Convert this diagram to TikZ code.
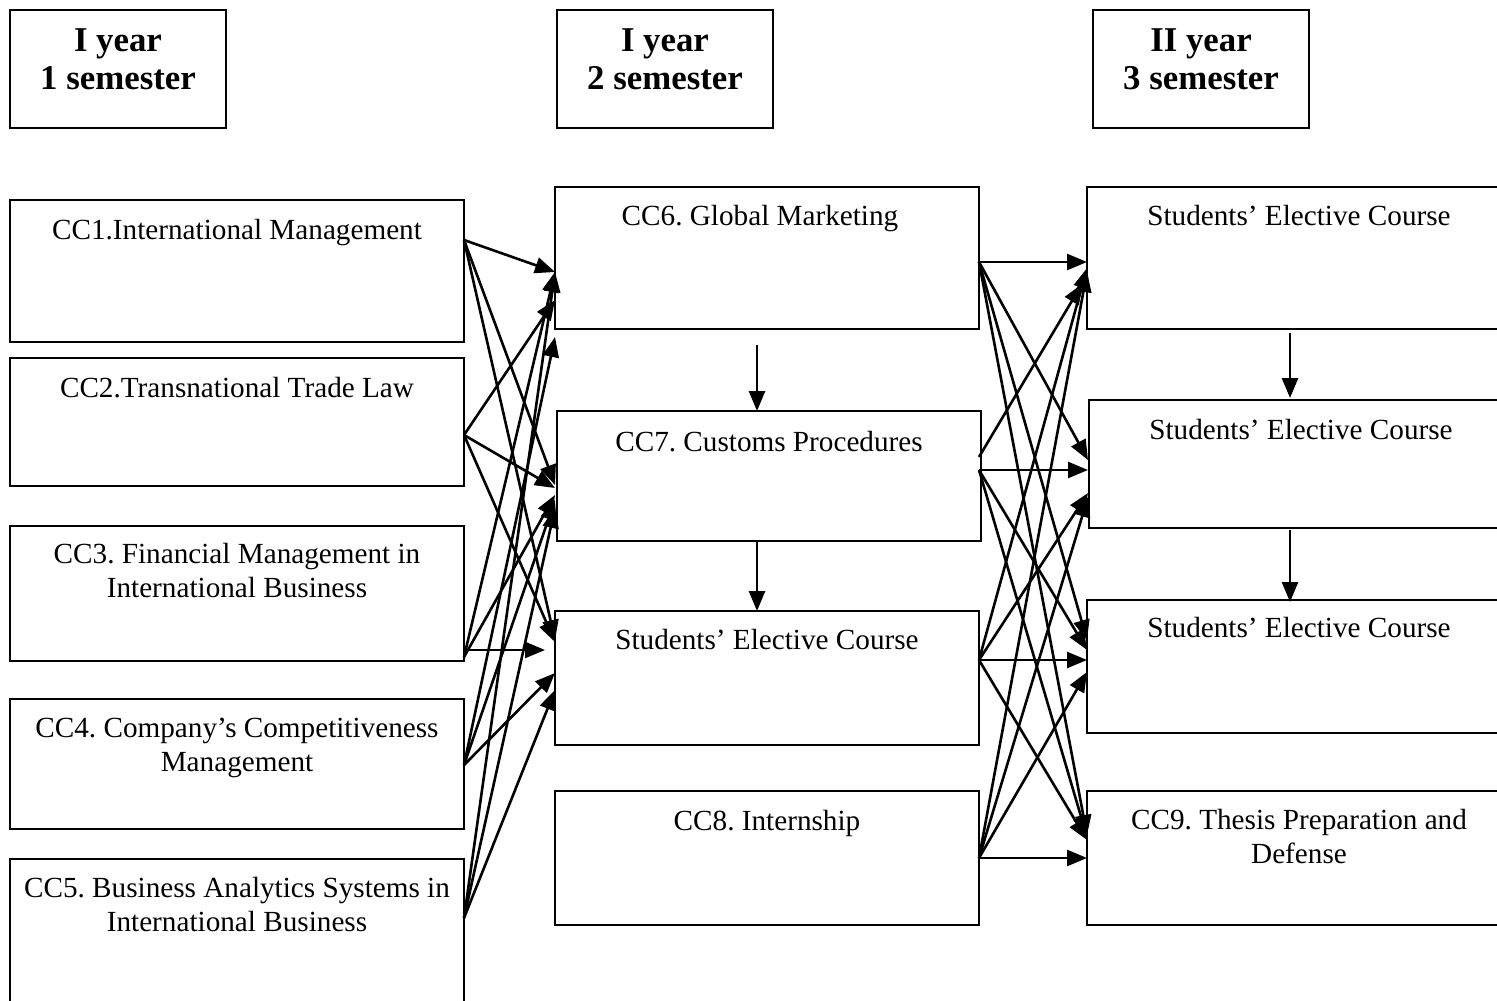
\documentclass[tikz,border=0pt]{standalone}
\usepackage{fontspec}
\setmainfont{Liberation Serif}
\usetikzlibrary{fit,calc,arrows.meta}
\begin{document}
\frenchspacing
\begin{tikzpicture}[x=0.5pt,y=-0.5pt,
  box/.style={draw,line width=1pt,inner sep=0pt,outer sep=0pt},
  txt/.style={anchor=base,align=center,inner sep=0pt,font=\fontsize{14.6pt}{17pt}\selectfont},
  head/.style={anchor=base,align=center,inner sep=0pt,font=\fontsize{17.4pt}{19pt}\selectfont\bfseries},
  arr/.style={line width=1.3pt,-{Triangle[length=10pt,width=8pt]}}]
\clip (0,0) rectangle (1497,1000);
% headers
\node[box,fit={(10,10) (226,128)}] (h1) {};
\node[box,fit={(557,10) (773,128)}] (h2) {};
\node[box,fit={(1093,10) (1309,128)}] (h3) {};
\node[head] (h1t) at (118,90) {I year\\1 semester};
\node[head] (h2t) at (665,90) {I year\\2 semester};
\node[head] (h3t) at (1201,90) {II year\\3 semester};
% left column
\node[box,fit={(10,200) (464,342)}] (cc1) {};
\node[box,fit={(10,358) (464,486)}] (cc2) {};
\node[box,fit={(10,526) (464,661)}] (cc3) {};
\node[box,fit={(10,699) (464,829)}] (cc4) {};
\node[box,fit={(10,859) (464,1010)}] (cc5) {};
\node[txt] (cc1t) at (237,240) {CC1.International Management};
\node[txt] (cc2t) at (237,397) {CC2.Transnational Trade Law};
\node[txt] (cc3t) at (237,597) {CC3. Financial Management in\\International Business};
\node[txt] (cc4t) at (237,771) {CC4. Company’s Competitiveness\\Management};
\node[txt] (cc5t) at (237,931) {CC5. Business Analytics Systems in\\International Business};
% middle column
\node[box,fit={(555,187) (979,329)}] (cc6) {};
\node[box,fit={(557,411) (981,541)}] (cc7) {};
\node[box,fit={(555,611) (979,745)}] (sec) {};
\node[box,fit={(555,791) (979,925)}] (cc8) {};
\node[txt] (cc6t) at (760,226) {CC6. Global Marketing};
\node[txt] (cc7t) at (769,451) {CC7. Customs Procedures};
\node[txt] (sect) at (767,649) {Students’ Elective Course};
\node[txt] (cc8t) at (767,830) {CC8. Internship};
% right column
\node[box,fit={(1087,187) (1511,329)}] (r1) {};
\node[box,fit={(1089,400) (1511,528)}] (r2) {};
\node[box,fit={(1087,600) (1511,733)}] (r3) {};
\node[box,fit={(1087,791) (1511,925)}] (cc9) {};
\node[txt] (r1t) at (1299,226) {Students’ Elective Course};
\node[txt] (r2t) at (1301,439) {Students’ Elective Course};
\node[txt] (r3t) at (1299,637) {Students’ Elective Course};
\node[txt] (cc9t) at (1299,863) {CC9. Thesis Preparation and\\Defense};
% vertical arrows
\draw[arr] ($(cc6.south)+(-10,16)$) -- ($(cc7.north)+(-12,0)$);
\draw[arr] ($(cc7.south)+(-12,0)$) -- ($(sec.north)+(-10,0)$);
\draw[arr] ($(r1.south)+(-9,4)$) -- ($(r2.north)+(-10,-2)$);
\draw[arr] ($(r2.south)+(-10,2)$) -- ($(r3.north)+(-9,2)$);
% left -> middle
\draw[arr] ($(cc1.north east)+(0,40)$) -- ($(cc6.north west)+(0,85)$);
\draw[arr] ($(cc1.north east)+(0,40)$) -- ($(cc7.north west)+(-2,74)$);
\draw[arr] ($(cc1.north east)+(0,40)$) -- ($(sec.north west)+(0,29)$);
\draw[arr] ($(cc2.north east)+(0,77)$) -- ($(cc6.north west)+(0,113)$);
\draw[arr] ($(cc2.north east)+(0,77)$) -- ($(cc7.north west)+(-2,77)$);
\draw[arr] ($(cc2.north east)+(0,77)$) -- ($(sec.north west)+(0,31)$);
\draw[arr] ($(cc3.north east)+(0,131)$) -- ($(cc6.north west)+(0,85)$);
\draw[arr] ($(cc3.north east)+(0,131)$) -- ($(cc7.north west)+(-2,84)$);
\draw[arr] ($(cc3.north east)+(0,124)$) -- ($(sec.north west)+(-10,39)$);
\draw[arr] ($(cc4.north east)+(0,66)$) -- ($(cc6.north west)+(0,150)$);
\draw[arr] ($(cc4.north east)+(0,66)$) -- ($(cc7.north west)+(-2,89)$);
\draw[arr] ($(cc4.north east)+(0,66)$) -- ($(sec.north west)+(0,62)$);
\draw[arr] ($(cc5.north east)+(0,59)$) -- ($(cc6.north west)+(0,85)$);
\draw[arr] ($(cc5.north east)+(0,59)$) -- ($(cc7.north west)+(-2,97)$);
\draw[arr] ($(cc5.north east)+(0,59)$) -- ($(sec.north west)+(0,79)$);
% middle -> right
\draw[arr] ($(cc6.north east)+(0,75)$) -- ($(r1.north west)+(0,75)$);
\draw[arr] ($(cc6.north east)+(0,75)$) -- ($(r2.north west)+(-1,60)$);
\draw[arr] ($(cc6.north east)+(0,75)$) -- ($(r3.north west)+(0,40)$);
\draw[arr] ($(cc6.north east)+(0,75)$) -- ($(cc9.north west)+(0,44)$);
\draw[arr] ($(cc7.north east)+(-2,46)$) -- ($(r1.north west)+(-5,97)$);
\draw[arr] ($(cc7.north east)+(-2,59)$) -- ($(r2.north west)+(-1,70)$);
\draw[arr] ($(cc7.north east)+(-2,59)$) -- ($(r3.north west)+(0,50)$);
\draw[arr] ($(cc7.north east)+(-2,59)$) -- ($(cc9.north west)+(0,46)$);
\draw[arr] ($(sec.north east)+(0,49)$) -- ($(r1.north west)+(0,81)$);
\draw[arr] ($(sec.north east)+(0,49)$) -- ($(r2.north west)+(-1,93)$);
\draw[arr] ($(sec.north east)+(0,49)$) -- ($(r3.north west)+(0,60)$);
\draw[arr] ($(sec.north east)+(0,49)$) -- ($(cc9.north west)+(0,49)$);
\draw[arr] ($(cc8.north east)+(0,67)$) -- ($(r1.north west)+(0,85)$);
\draw[arr] ($(cc8.north east)+(0,67)$) -- ($(r2.north west)+(-1,97)$);
\draw[arr] ($(cc8.north east)+(0,67)$) -- ($(r3.north west)+(0,72)$);
\draw[arr] ($(cc8.north east)+(0,67)$) -- ($(cc9.north west)+(0,67)$);
\end{tikzpicture}
\end{document}
